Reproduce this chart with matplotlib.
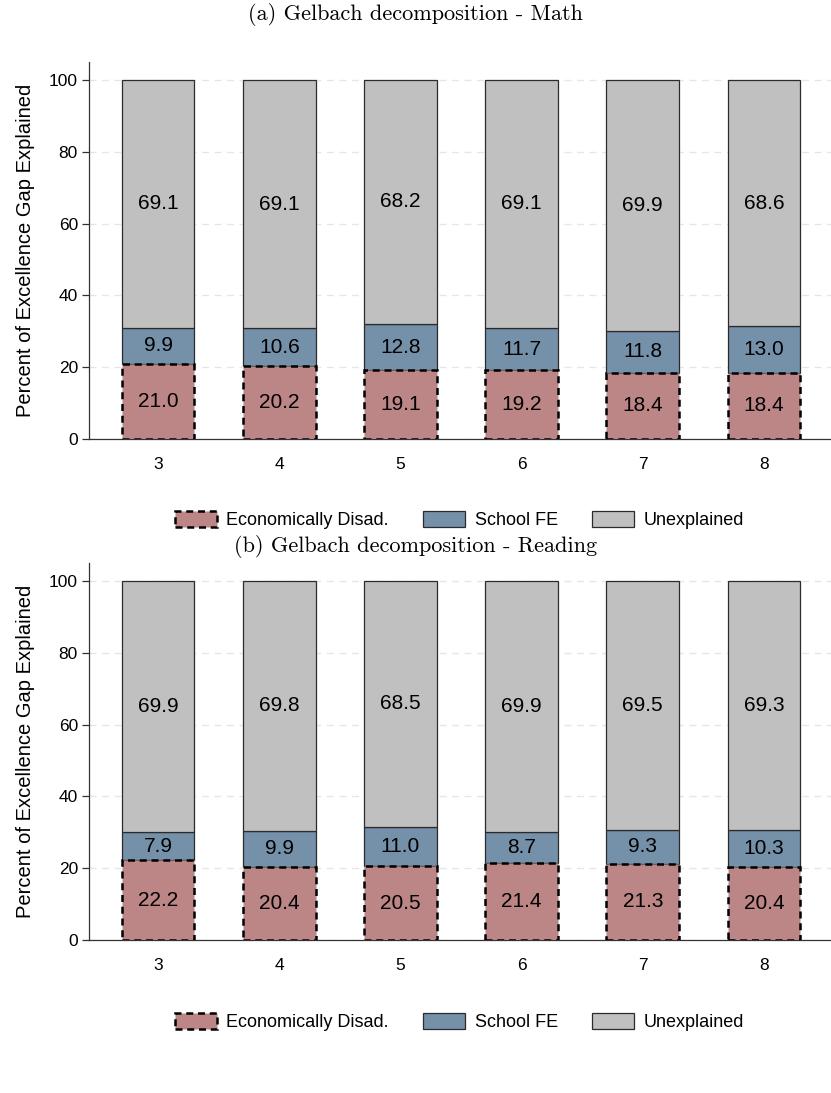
import numpy as np
import matplotlib.pyplot as plt
from matplotlib.patches import Patch

grades = [3, 4, 5, 6, 7, 8]

# math decomposition (percent of gap)
math_econ = [21.0, 20.2, 19.1, 19.2, 18.4, 18.4]
math_school = [9.9, 10.6, 12.8, 11.7, 11.8, 13.0]
math_unexpl = [69.1, 69.1, 68.2, 69.1, 69.9, 68.6]

# reading decomposition (percent of gap)
read_econ = [22.2, 20.4, 20.5, 21.4, 21.3, 20.4]
read_school = [7.9, 9.9, 11.0, 8.7, 9.3, 10.3]
read_unexpl = [69.9, 69.8, 68.5, 69.9, 69.5, 69.3]

c_econ = "#bc8586"
c_school = "#7590a9"
c_unexpl = "#c0c0c0"

plt.rcParams['font.family'] = ['Liberation Sans', 'DejaVu Sans']

fig = plt.figure(figsize=(8.31, 10.93), dpi=100)

dash = (0, (2.8, 1.9))


def draw_panel(ax, econ, school, unexpl):
    x = np.array(grades)
    econ = np.array(econ)
    school = np.array(school)
    unexpl = np.array(unexpl)
    w = 0.6

    ax.bar(x, econ, width=w, color=c_econ, edgecolor="black",
           linewidth=1.8, linestyle=dash, zorder=3)
    ax.bar(x, school, width=w, bottom=econ, color=c_school,
           edgecolor="#2b2b2b", linewidth=0.9, zorder=2)
    ax.bar(x, unexpl, width=w, bottom=econ + school, color=c_unexpl,
           edgecolor="#2b2b2b", linewidth=0.9, zorder=2)

    for xi, a, b, c in zip(x, econ, school, unexpl):
        ax.text(xi, a / 2, f"{a:.1f}", ha="center", va="center",
                fontsize=15, zorder=5)
        ax.text(xi, a + b / 2, f"{b:.1f}", ha="center", va="center",
                fontsize=15, zorder=5)
        ax.text(xi, a + b + c / 2, f"{c:.1f}", ha="center", va="center",
                fontsize=15, zorder=5)

    ax.set_xlim(2.43, 8.553)
    ax.set_ylim(0, 105)
    ax.set_xticks(grades)
    ax.set_yticks([0, 20, 40, 60, 80, 100])
    ax.tick_params(axis="x", length=0, labelsize=12.5, pad=13)
    ax.tick_params(axis="y", length=5, width=0.9, color="#333333",
                   labelsize=12.5, pad=3)
    ax.yaxis.grid(True, color="#e6e6e6", linestyle=(0, (5, 4)), linewidth=1)
    ax.set_axisbelow(True)
    for s in ["top", "right"]:
        ax.spines[s].set_visible(False)
    ax.spines["left"].set_color("#333333")
    ax.spines["bottom"].set_color("#333333")
    ax.spines["left"].set_linewidth(0.9)
    ax.spines["bottom"].set_linewidth(0.9)
    ax.set_ylabel("Percent of Excellence Gap Explained", fontsize=14.5,
                  labelpad=10)


def add_legend(y):
    handles = [
        Patch(facecolor=c_econ, edgecolor="black", linewidth=1.8,
              linestyle=dash, label="Economically Disad."),
        Patch(facecolor=c_school, edgecolor="#2b2b2b", linewidth=0.9,
              label="School FE"),
        Patch(facecolor=c_unexpl, edgecolor="#2b2b2b", linewidth=0.9,
              label="Unexplained"),
    ]
    fig.legend(handles=handles, loc="center", ncol=3, frameon=False,
               bbox_to_anchor=(459.5 / 831, 1 - y / 1093), fontsize=13,
               handlelength=2.3, handleheight=1.0, handletextpad=0.55,
               columnspacing=1.9)


ax1 = fig.add_axes([0.1071, 0.5984, 0.8929, 0.3449])
draw_panel(ax1, math_econ, math_school, math_unexpl)
fig.text(0.5, 1 - 15 / 1093, "(a) Gelbach decomposition - Math",
         ha="center", va="center", fontsize=16, family="cmr10")
add_legend(520)

ax2 = fig.add_axes([0.1071, 0.14, 0.8929, 0.3449])
draw_panel(ax2, read_econ, read_school, read_unexpl)
fig.text(0.5, 1 - 547 / 1093, "(b) Gelbach decomposition - Reading",
         ha="center", va="center", fontsize=16, family="cmr10")
add_legend(1022)

fig.savefig("out.png", dpi=100, facecolor="white")
